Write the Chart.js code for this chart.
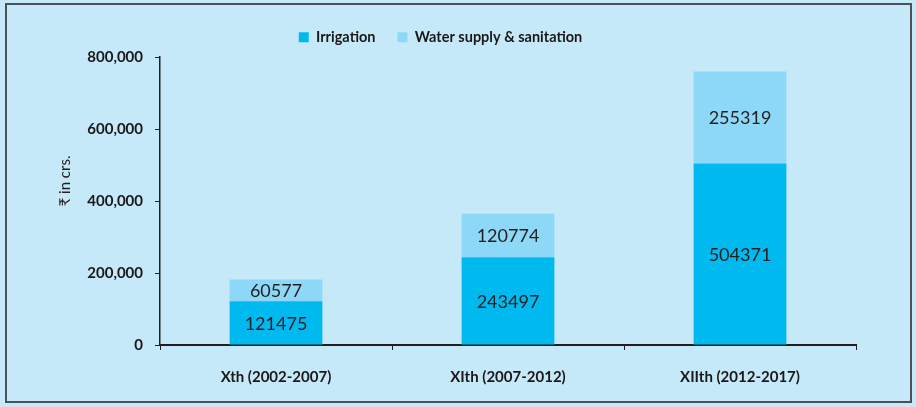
<!DOCTYPE html>
<html>
<head>
<meta charset="utf-8">
<script src="https://cdn.jsdelivr.net/npm/chart.js@4.4.1/dist/chart.umd.min.js"></script>
<style>
  html, body { margin: 0; padding: 0; background: #C6E9F9; }
  #wrap { position: relative; width: 916px; height: 407px; background: #C6E9F9; }
  #frame { position: absolute; left: 5px; top: 3px; width: 903px; height: 396px; border: 2px solid #4a5158; pointer-events: none; }
  canvas { position: absolute; left: 0; top: 0; }
</style>
</head>
<body>
<div id="wrap">
  <canvas id="c" width="916" height="407"></canvas>
  <div id="frame"></div>
</div>
<script>
const categories = ["Xth (2002-2007)", "XIth (2007-2012)", "XIIth (2012-2017)"];
const irrigation = [121475, 243497, 504371];
const waterSupply = [60577, 120774, 255319];
const seriesNames = ["Irrigation", "Water supply & sanitation"];
const yTicks = [0, 200000, 400000, 600000, 800000];
const yTitle = "₹ in crs.";

const FONT = "Lato, 'Open Sans', sans-serif";

const valueLabels = {
  id: 'valueLabels',
  afterDatasetsDraw(chart) {
    const ctx = chart.ctx;
    ctx.save();
    ctx.font = "18px " + FONT;
    ctx.fillStyle = "#231f20";
    ctx.textAlign = "center";
    ctx.textBaseline = "middle";
    chart.data.datasets.forEach((ds, di) => {
      const meta = chart.getDatasetMeta(di);
      meta.data.forEach((bar, i) => {
        const p = bar.getProps(['x', 'y', 'base'], true);
        ctx.fillText(String(ds.data[i]), p.x, (p.y + p.base) / 2 + 1);
      });
    });
    ctx.restore();
  }
};

const axisTitle = {
  id: 'axisTitle',
  afterDraw(chart) {
    const ctx = chart.ctx;
    ctx.save();
    ctx.translate(65, 181);
    ctx.rotate(-Math.PI / 2);
    ctx.font = "15px " + FONT;
    ctx.fillStyle = "#231f20";
    ctx.textAlign = "center";
    ctx.textBaseline = "middle";
    ctx.fillText(yTitle, 0, 0);
    ctx.restore();
  }
};

const legendPatch = {
  id: 'legendPatch',
  beforeLayout(chart) {
    const lg = chart.legend;
    if (lg && !lg._patched) {
      const orig = lg.fit;
      lg.fit = function () { orig.call(this); this.height = 49; };
      lg._patched = true;
    }
  }
};

new Chart(document.getElementById('c'), {
  type: 'bar',
  data: {
    labels: categories,
    datasets: [
      { label: seriesNames[0], data: irrigation, backgroundColor: '#00B9EF', categoryPercentage: 0.8, barPercentage: 0.5 },
      { label: seriesNames[1], data: waterSupply, backgroundColor: '#8ED8F7', categoryPercentage: 0.8, barPercentage: 0.5 }
    ]
  },
  options: {
    responsive: false,
    animation: false,
    layout: { padding: { left: 25, right: 60, top: 8, bottom: 20 } },
    plugins: {
      legend: {
        position: 'top',
        align: 'center',
        labels: {
          boxWidth: 10, boxHeight: 10, padding: 22,
          color: '#1a1718',
          font: { family: FONT, size: 14.5, weight: 'bold' }
        }
      },
      tooltip: { enabled: false }
    },
    scales: {
      x: {
        stacked: true,
        grid: { display: true, drawOnChartArea: false, offset: true, tickLength: 5, color: '#231f20', lineWidth: 1 },
        border: { display: true, color: '#231f20', width: 2 },
        ticks: { color: '#1a1718', padding: 18, font: { family: FONT, size: 15, weight: 'bold' } },
        afterFit(s) { s.height = 42; }
      },
      y: {
        stacked: true,
        min: 0, max: 800000,
        afterBuildTicks(s) { s.ticks = yTicks.map(v => ({ value: v })); },
        grid: { display: true, drawOnChartArea: false, tickLength: 5, color: '#231f20', lineWidth: 1 },
        border: { display: true, color: '#231f20', width: 1.5 },
        ticks: {
          color: '#1a1718', padding: 12,
          font: { family: FONT, size: 15, weight: 'bold' },
          callback: v => v.toLocaleString('en-US')
        },
        afterFit(s) { s.width = 135; }
      }
    }
  },
  plugins: [legendPatch, valueLabels, axisTitle]
});
</script>
</body>
</html>
